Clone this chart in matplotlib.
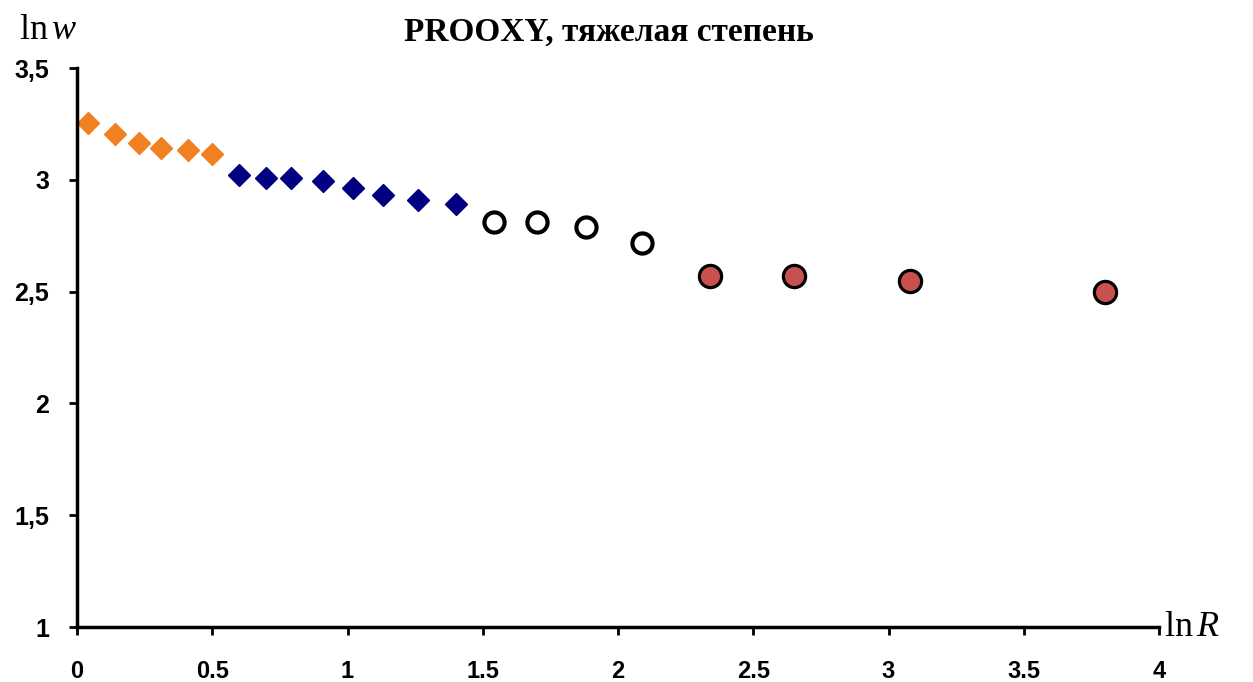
import matplotlib
matplotlib.use("Agg")
import matplotlib.pyplot as plt

plt.rcParams['mathtext.fontset'] = 'custom'
plt.rcParams['mathtext.rm'] = 'Liberation Serif'
plt.rcParams['mathtext.it'] = 'Liberation Serif:italic'

# data
orange_x = [0.04, 0.14, 0.23, 0.31, 0.41, 0.50]
orange_y = [3.255, 3.206, 3.166, 3.143, 3.134, 3.116]

blue_x = [0.60, 0.70, 0.79, 0.91, 1.02, 1.13, 1.26, 1.40]
blue_y = [3.022, 3.009, 3.009, 2.996, 2.964, 2.933, 2.911, 2.893]

open_x = [1.54, 1.70, 1.88, 2.09]
open_y = [2.81, 2.81, 2.79, 2.72]

red_x = [2.34, 2.65, 3.08, 3.80]
red_y = [2.57, 2.57, 2.55, 2.50]

x_ticks = [0, 0.5, 1, 1.5, 2, 2.5, 3, 3.5, 4]
x_labels = ['0', '0.5', '1', '1.5', '2', '2.5', '3', '3.5', '4']
y_ticks = [1, 1.5, 2, 2.5, 3, 3.5]
y_labels = ['1', '1,5', '2', '2,5', '3', '3,5']

fig = plt.figure(figsize=(12.53, 6.82), dpi=100)
ax = fig.add_axes([0.0615, 0.0806, 0.8635, 0.8194])

ax.plot(orange_x, orange_y, 'D', color='#F08020', ms=11.5, mec='#F08020', ls='none', clip_on=False)
ax.plot(blue_x, blue_y, 'D', color='#000080', ms=11, mec='#000080', ls='none', clip_on=False)
ax.plot(open_x, open_y, 'o', mfc='white', mec='black', mew=3, ms=14.5, ls='none', clip_on=False)
ax.plot(red_x, red_y, 'o', mfc='#C8504F', mec='black', mew=2.3, ms=16, ls='none', clip_on=False)

ax.set_xlim(0, 4)
ax.set_ylim(1, 3.5)
ax.set_xticks(x_ticks)
ax.set_xticklabels(x_labels)
ax.set_yticks(y_ticks)
ax.set_yticklabels(y_labels)

for s in ['top', 'right']:
    ax.spines[s].set_visible(False)
for s in ['left', 'bottom']:
    ax.spines[s].set_linewidth(2.5)

ax.tick_params(axis='y', direction='out', length=6, width=2, pad=14, labelsize=18)
ax.tick_params(axis='x', direction='out', length=6, width=2, pad=18, labelsize=17)
for lab in ax.get_xticklabels() + ax.get_yticklabels():
    lab.set_fontfamily('Liberation Sans')
    lab.set_fontweight('bold')

fig.text(0.486, 0.953, 'PROOXY, тяжелая степень', ha='center', va='center',
         fontsize=24, family='Liberation Serif', fontweight='bold')
fig.text(0.015, 0.958, r'$\mathrm{ln}\,w$', ha='left', va='center', fontsize=26)
fig.text(0.929, 0.082, r'$\mathrm{ln}\,R$', ha='left', va='center', fontsize=26)

fig.savefig('out.png', dpi=100, facecolor='white')
